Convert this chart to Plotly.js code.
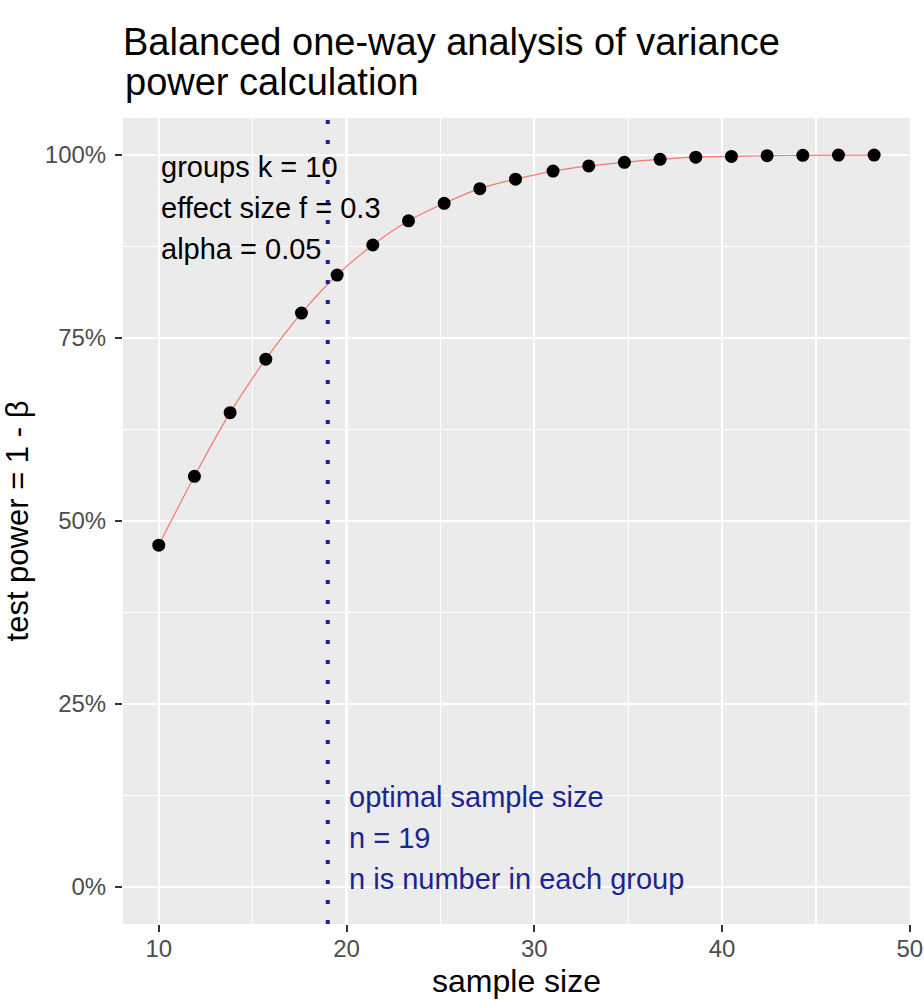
<!DOCTYPE html>
<html><head><meta charset="utf-8">
<script src="https://cdn.plot.ly/plotly-3.0.1.min.js"></script>
<style>html,body{margin:0;padding:0;background:#fff}#chart{width:924px;height:1000px}</style>
</head><body><div id="chart"></div>
<script>
// ---- data ----
const sampleSize = [10, 11.9, 13.8, 15.7, 17.6, 19.5, 21.4, 23.3, 25.2, 27.1, 29.0, 31.0, 32.9, 34.8, 36.7, 38.6, 40.5, 42.4, 44.3, 46.2, 48.1];
const power = [0.467, 0.561, 0.648, 0.721, 0.784, 0.836, 0.877, 0.910, 0.934, 0.954, 0.967, 0.978, 0.985, 0.990, 0.994, 0.997, 0.998, 0.999, 0.9995, 0.9998, 0.9999];
const optimalN = 19;
const xTicks = [10, 20, 30, 40, 50];
const yTicks = [0, 0.25, 0.5, 0.75, 1];
const yTickLabels = ['0%', '25%', '50%', '75%', '100%'];
const titleLines = ['Balanced one-way analysis of variance', 'power calculation'];
const paramNotes = ['groups k = 10', 'effect size f = 0.3', 'alpha = 0.05'];
const optimalNotes = ['optimal sample size', 'n = 19', 'n is number in each group'];

// ---- styling ----
const FONT = 'Liberation Sans, Arial, Helvetica, sans-serif';
const BLUE = '#1A2690';
const noteStep = 0.056;

const annotations = [];
// second line of the title (kept as text, placed under the first line)
annotations.push({
  text: titleLines[1], x: 0, y: 1.0447, xref: 'paper', yref: 'paper',
  xanchor: 'left', yanchor: 'middle', showarrow: false,
  font: {family: FONT, size: 38, color: '#000000'}
});
paramNotes.forEach((t, i) => annotations.push({
  text: t, x: sampleSize[0], y: 0.984 - i * noteStep, xref: 'x', yref: 'y',
  xanchor: 'left', yanchor: 'middle', showarrow: false,
  font: {family: FONT, size: 29, color: '#000000'}
}));
optimalNotes.forEach((t, i) => annotations.push({
  text: t, x: optimalN + 1, y: 0.123 - i * noteStep, xref: 'x', yref: 'y',
  xanchor: 'left', yanchor: 'middle', showarrow: false,
  font: {family: FONT, size: 29, color: BLUE}
}));

const traces = [
  {x: sampleSize, y: power, type: 'scatter', mode: 'lines',
   line: {color: '#F8766D', width: 1.2, shape: 'spline'}, hoverinfo: 'skip', showlegend: false},
  {x: sampleSize, y: power, type: 'scatter', mode: 'markers',
   marker: {color: '#000000', size: 13}, showlegend: false}
];

const layout = {
  width: 924, height: 1000,
  margin: {l: 123, r: 14, t: 118, b: 76},
  paper_bgcolor: '#FFFFFF', plot_bgcolor: '#EBEBEB',
  font: {family: FONT},
  title: {
    text: titleLines[0],
    x: 0, xref: 'paper', xanchor: 'left',
    y: 1 - 28 / 1000, yref: 'container', yanchor: 'top',
    font: {family: FONT, size: 38, color: '#000000'}
  },
  xaxis: {
    range: [8.095, 50.01], tickvals: xTicks, ticktext: xTicks.map(String),
    showgrid: true, gridcolor: '#FFFFFF', gridwidth: 2.4, zeroline: false,
    minor: {dtick: 5, tick0: 0, showgrid: true, gridcolor: '#FFFFFF', gridwidth: 1.2},
    ticks: 'outside', ticklen: 7, tickwidth: 2, tickcolor: '#333333',
    ticklabelstandoff: -4,
    tickfont: {family: FONT, size: 24, color: '#4D4D4D'},
    showline: false,
    title: {text: 'sample size', font: {family: FONT, size: 32, color: '#000000'}, standoff: 8}
  },
  yaxis: {
    range: [-0.0505, 1.0505], tickvals: yTicks, ticktext: yTickLabels,
    showgrid: true, gridcolor: '#FFFFFF', gridwidth: 2.4, zeroline: false,
    minor: {dtick: 0.125, tick0: 0, showgrid: true, gridcolor: '#FFFFFF', gridwidth: 1.2},
    ticks: 'outside', ticklen: 7, tickwidth: 2, tickcolor: '#333333',
    ticklabelstandoff: 4,
    tickfont: {family: FONT, size: 24, color: '#4D4D4D'},
    showline: false,
    title: {text: 'test power = 1 - β', font: {family: FONT, size: 31, color: '#000000'}, standoff: 8}
  },
  shapes: [{
    type: 'line', xref: 'x', yref: 'paper', x0: optimalN, x1: optimalN, y0: 0, y1: 1,
    line: {color: BLUE, width: 4, dash: '4px,16px'}, layer: 'above'
  }],
  annotations: annotations
};

Plotly.newPlot('chart', traces, layout, {displayModeBar: false, staticPlot: true});
</script>
</body></html>
